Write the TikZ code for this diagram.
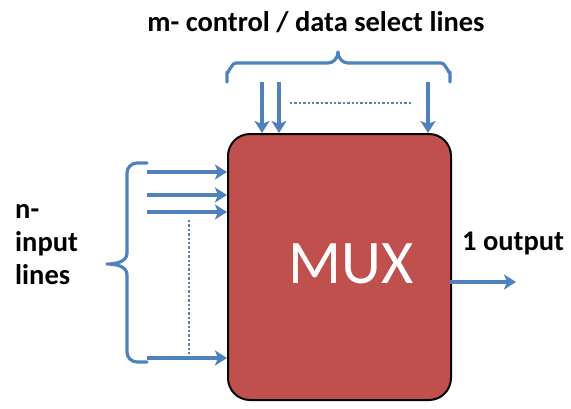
\documentclass[tikz,border=0pt]{standalone}
\usepackage{fontspec}
\setmainfont{Carlito}
\usetikzlibrary{arrows.meta}
\definecolor{muxred}{HTML}{C0504D}
\definecolor{lineblue}{HTML}{4F81BD}
\tikzset{
  wire/.style={draw=lineblue, line width=3.4pt, -{Stealth[length=12pt,width=15pt,inset=3pt]}},
  bracep/.style={draw=lineblue, line width=3.2pt, line cap=round, line join=round},
  dots/.style={draw=lineblue, line width=2.4pt, dotted},
  lbl/.style={font=\bfseries\fontsize{28.5}{33}\selectfont, inner sep=0pt, text=black},
}
\begin{document}
\begin{tikzpicture}[x=1pt,y=-1pt]
\useasboundingbox (0,0) rectangle (571,408);
% MUX box
\node[draw=black, line width=2pt, fill=muxred, rounded corners=22pt, minimum width=223pt, minimum height=266pt, inner sep=0pt, anchor=north west] (mux) at (227,133) {};
\node[font=\fontsize{62}{62}\selectfont, text=white, inner sep=0pt] (muxlbl) at (351,264) {MUX};
% top brace
\draw[bracep] (227,82) -- (227,72) to[out=-90,in=180] (236,63) -- (328,63) to[out=0,in=-90] (338,52) to[out=-90,in=180] (348,63) -- (441,63) to[out=0,in=-90] (450,72) -- (450,82);
% left brace
\draw[bracep] (147,163) -- (137,163) to[out=180,in=90] (127,173) -- (127,253) to[out=-90,in=0] (107,264) to[out=0,in=90] (127,275) -- (127,352) to[out=-90,in=180] (137,362) -- (147,362);
% select coordinates
\coordinate (s1) at (262,82);
\coordinate (s2) at (279,82);
\coordinate (s3) at (428,82);
\draw[wire] (s1) -- (s1 |- mux.north);
\draw[wire] (s2) -- (s2 |- mux.north);
\draw[wire] (s3) -- (s3 |- mux.north);
\coordinate (d1) at (290,103);
\coordinate (d2) at (412,103);
\draw[dots] (d1) -- (d2);
% inputs
\coordinate (i1) at (147,172);
\coordinate (i2) at (147,195);
\coordinate (i3) at (147,212);
\coordinate (i4) at (147,358);
\draw[wire] (i1) -- (i1 -| mux.west);
\draw[wire] (i2) -- (i2 -| mux.west);
\draw[wire] (i3) -- (i3 -| mux.west);
\draw[wire] (i4) -- (i4 -| mux.west);
\coordinate (v1) at (189,220);
\coordinate (v2) at (189,356);
\draw[dots] (v1) -- (v2);
% output
\coordinate (o1) at (450,282);
\coordinate (o2) at (516,282);
\draw[wire] (o1) -- (o2);
% labels
\node[lbl, anchor=center] (top) at (316,22) {m- control / data select lines};
\node[lbl, anchor=west, align=left] (inp) at (15,245) {n-\\input\\lines};
\node[lbl, anchor=west] (out) at (462,243) {1 output};
\end{tikzpicture}
\end{document}
